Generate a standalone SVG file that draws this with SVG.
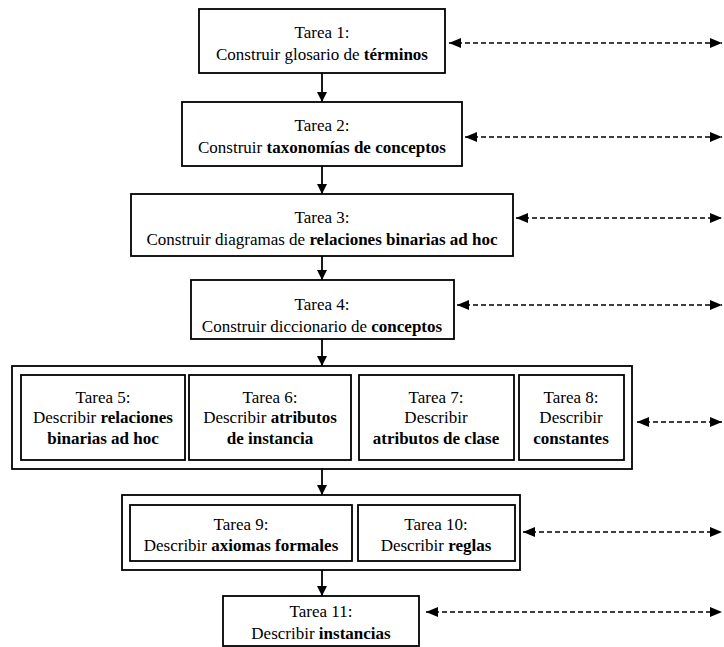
<svg xmlns="http://www.w3.org/2000/svg" width="724" height="647" viewBox="0 0 724 647" font-family="Liberation Serif, DejaVu Serif, Times New Roman, serif">
<style>
.box{fill:#fff;stroke:#000;stroke-width:1.8}
text{font-family:"Liberation Serif","DejaVu Serif","Times New Roman",serif}
.t{font-size:17px;fill:#000;text-anchor:middle}
.b{font-weight:bold}
.flow{stroke:#000;stroke-width:1.8;fill:none}
.dash{stroke:#000;stroke-width:1.6;stroke-dasharray:5 3;fill:none}
</style>
<defs>
<marker id="ah" viewBox="0 0 10 10" refX="10" refY="5" markerWidth="10" markerHeight="10" markerUnits="userSpaceOnUse" orient="auto-start-reverse">
<path d="M0,0 L10,5 L0,10 z" fill="#000"/>
</marker>
<marker id="dh" viewBox="0 0 12 10" refX="12" refY="5" markerWidth="12" markerHeight="10" markerUnits="userSpaceOnUse" orient="auto-start-reverse">
<path d="M0,0 L12,5 L0,10 z" fill="#000"/>
</marker>
</defs>
<rect width="724" height="647" fill="#fff"/>
<g id="connectors">
<line class="flow" x1="322" y1="73" x2="322" y2="102" marker-end="url(#ah)"/>
<line class="flow" x1="322" y1="166" x2="322" y2="194" marker-end="url(#ah)"/>
<line class="flow" x1="322" y1="256" x2="322" y2="280" marker-end="url(#ah)"/>
<line class="flow" x1="322" y1="339" x2="322" y2="366" marker-end="url(#ah)"/>
<line class="flow" x1="322" y1="469" x2="322" y2="495" marker-end="url(#ah)"/>
<line class="flow" x1="322" y1="570" x2="322" y2="596" marker-end="url(#ah)"/>
<line class="dash" x1="449" y1="43" x2="722" y2="43" marker-start="url(#dh)" marker-end="url(#dh)"/>
<line class="dash" x1="465" y1="137" x2="722" y2="137" marker-start="url(#dh)" marker-end="url(#dh)"/>
<line class="dash" x1="516" y1="218" x2="722" y2="218" marker-start="url(#dh)" marker-end="url(#dh)"/>
<line class="dash" x1="457" y1="305" x2="722" y2="305" marker-start="url(#dh)" marker-end="url(#dh)"/>
<line class="dash" x1="637" y1="422" x2="722" y2="422" marker-start="url(#dh)" marker-end="url(#dh)"/>
<line class="dash" x1="523" y1="532" x2="722" y2="532" marker-start="url(#dh)" marker-end="url(#dh)"/>
<line class="dash" x1="426" y1="612" x2="722" y2="612" marker-start="url(#dh)" marker-end="url(#dh)"/>
</g>
<g id="tarea1">
<rect class="box" x="199" y="9" width="246" height="64"/>
<text class="t" x="322" y="38">Tarea 1:</text>
<text class="t" x="322" y="60">Construir glosario de <tspan class="b">términos</tspan></text>
</g>
<g id="tarea2">
<rect class="box" x="182" y="102" width="280" height="64"/>
<text class="t" x="322" y="131">Tarea 2:</text>
<text class="t" x="322" y="153">Construir <tspan class="b">taxonomías de conceptos</tspan></text>
</g>
<g id="tarea3">
<rect class="box" x="131" y="194" width="382" height="62"/>
<text class="t" x="322" y="223">Tarea 3:</text>
<text class="t" x="322" y="245">Construir diagramas de <tspan class="b">relaciones binarias ad hoc</tspan></text>
</g>
<g id="tarea4">
<rect class="box" x="191" y="280" width="263" height="59"/>
<text class="t" x="322" y="310">Tarea 4:</text>
<text class="t" x="322" y="332">Construir diccionario de <tspan class="b">conceptos</tspan></text>
</g>
<g id="grupo5a8">
<rect class="box" x="12" y="366" width="620" height="103"/>
</g>
<g id="tarea5">
<rect class="box" x="21" y="375" width="164" height="85"/>
<text class="t" x="103" y="403">Tarea 5:</text>
<text class="t" x="103" y="423">Describir <tspan class="b">relaciones</tspan></text>
<text class="t" x="103" y="444"><tspan class="b">binarias ad hoc</tspan></text>
</g>
<g id="tarea6">
<rect class="box" x="189" y="375" width="162" height="85"/>
<text class="t" x="270" y="403">Tarea 6:</text>
<text class="t" x="270" y="423">Describir <tspan class="b">atributos</tspan></text>
<text class="t" x="270" y="444"><tspan class="b">de instancia</tspan></text>
</g>
<g id="tarea7">
<rect class="box" x="359" y="375" width="155" height="85"/>
<text class="t" x="436" y="403">Tarea 7:</text>
<text class="t" x="436" y="423">Describir</text>
<text class="t" x="436" y="444"><tspan class="b">atributos de clase</tspan></text>
</g>
<g id="tarea8">
<rect class="box" x="519" y="375" width="105" height="85"/>
<text class="t" x="571" y="403">Tarea 8:</text>
<text class="t" x="571" y="423">Describir</text>
<text class="t" x="571" y="444"><tspan class="b">constantes</tspan></text>
</g>
<g id="grupo9y10">
<rect class="box" x="122" y="495" width="398" height="75"/>
</g>
<g id="tarea9">
<rect class="box" x="130" y="505" width="222" height="56"/>
<text class="t" x="241" y="530">Tarea 9:</text>
<text class="t" x="241" y="551">Describir <tspan class="b">axiomas formales</tspan></text>
</g>
<g id="tarea10">
<rect class="box" x="358" y="505" width="157" height="56"/>
<text class="t" x="436" y="530">Tarea 10:</text>
<text class="t" x="436" y="551">Describir <tspan class="b">reglas</tspan></text>
</g>
<g id="tarea11">
<rect class="box" x="223" y="596" width="196" height="50"/>
<text class="t" x="321" y="617">Tarea 11:</text>
<text class="t" x="321" y="639">Describir <tspan class="b">instancias</tspan></text>
</g>
</svg>
